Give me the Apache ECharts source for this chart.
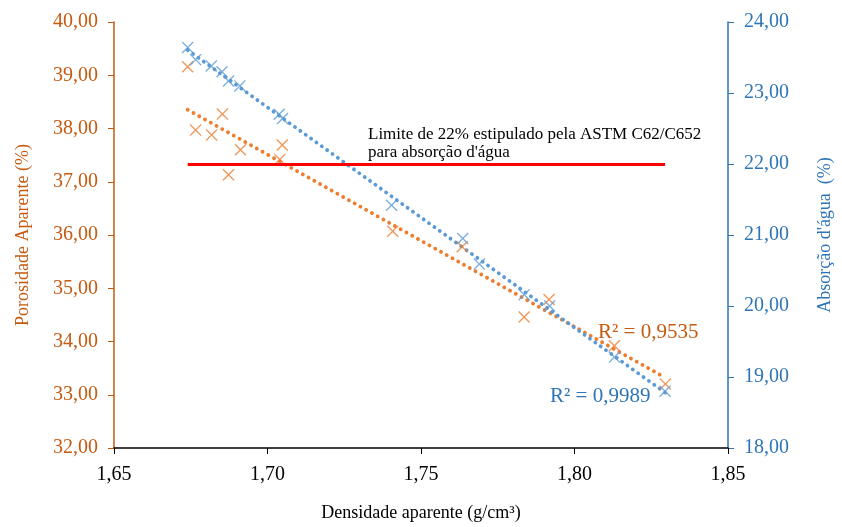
<!DOCTYPE html>
<html>
<head>
<meta charset="utf-8">
<script src="https://cdn.jsdelivr.net/npm/echarts@6/dist/echarts.min.js"></script>
<style>
  html, body { margin: 0; padding: 0; background: #fff; }
  #chart { width: 842px; height: 527px; }
</style>
</head>
<body>
<div id="chart"></div>
<script>
// densidade aparente x porosidade aparente
var densPorosidade = [1.674, 1.6766, 1.6818, 1.6853, 1.6873, 1.6912, 1.7040, 1.7048, 1.7408, 1.7634, 1.7836, 1.7917, 1.8130, 1.8296];
var porosidade = [39.16, 37.97, 37.88, 38.27, 37.13, 37.60, 37.42, 37.69, 36.07, 35.78, 34.46, 34.79, 33.92, 33.20];

// densidade aparente x absorcao de agua
var densAbsorcao = [1.674, 1.6766, 1.6817, 1.6852, 1.6873, 1.6910, 1.7038, 1.7049, 1.7404, 1.7636, 1.7690, 1.7836, 1.7919, 1.8130, 1.8295];
var absorcao = [23.64, 23.47, 23.38, 23.30, 23.17, 23.10, 22.70, 22.64, 21.42, 20.95, 20.59, 20.16, 20.00, 19.28, 18.80];

var limiteAbsorcao = 22;
var r2Labels = ["R² = 0,9535", "R² = 0,9989"];

var laranja = "#ED7D31";
var laranjaEixo = "#C55A11";
var azul = "#5B9BD5";
var azulEixo = "#2E75B6";
var fonte = "Liberation Serif";

// linha de tendencia (minimos quadrados)
function tendencia(xs, ys) {
  var n = xs.length, sx = 0, sy = 0, sxx = 0, sxy = 0;
  for (var i = 0; i < n; i++) {
    sx += xs[i]; sy += ys[i]; sxx += xs[i] * xs[i]; sxy += xs[i] * ys[i];
  }
  var b = (n * sxy - sx * sy) / (n * sxx - sx * sx);
  var a = (sy - b * sx) / n;
  var x0 = Math.min.apply(null, xs), x1 = Math.max.apply(null, xs);
  return [[x0, a + b * x0], [x1, a + b * x1]];
}

function pares(xs, ys) {
  return xs.map(function(x, i) { return [x, ys[i]]; });
}

function virgula(v) { return v.toFixed(2).replace(".", ","); }

var simboloX = "path://M0,0.8 L0.8,0 L5,4.2 L9.2,0 L10,0.8 L5.8,5 L10,9.2 L9.2,10 L5,5.8 L0.8,10 L0,9.2 L4.2,5 Z";

var myChart = echarts.init(document.getElementById("chart"));
var option = {
  animation: false,
  grid: { left: 114, right: 111, top: 22, bottom: 76 },
  xAxis: {
    type: "value",
    min: 1.65,
    max: 1.85,
    interval: 0.05,
    name: "Densidade aparente (g/cm³)",
    nameLocation: "middle",
    nameGap: 56,
    nameTextStyle: { color: "#000", fontFamily: fonte, fontSize: 18 },
    axisLine: { lineStyle: { color: "#000", width: 1.5 } },
    axisTick: { show: true, inside: false, length: 6, lineStyle: { color: "#000" } },
    axisLabel: { color: "#000", fontFamily: fonte, fontSize: 20, margin: 17, formatter: virgula },
    splitLine: { show: false }
  },
  yAxis: [
    {
      type: "value",
      min: 32,
      max: 40,
      interval: 1,
      position: "left",
      name: "Porosidade Aparente (%)",
      nameLocation: "middle",
      nameRotate: 90,
      nameGap: 82,
      nameTextStyle: { color: laranjaEixo, fontFamily: fonte, fontSize: 18 },
      axisLine: { show: true, lineStyle: { color: laranjaEixo, width: 1.5 } },
      axisTick: { show: true, length: 6, lineStyle: { color: laranjaEixo } },
      axisLabel: { color: laranjaEixo, fontFamily: fonte, fontSize: 20, margin: 16, formatter: virgula },
      splitLine: { show: false }
    },
    {
      type: "value",
      min: 18,
      max: 24,
      interval: 1,
      position: "right",
      name: "Absorção d'água  (%)",
      nameLocation: "middle",
      nameRotate: 90,
      nameGap: 88,
      nameTextStyle: { color: azulEixo, fontFamily: fonte, fontSize: 18 },
      axisLine: { show: true, lineStyle: { color: azulEixo, width: 1.5 } },
      axisTick: { show: true, length: 6, lineStyle: { color: azulEixo } },
      axisLabel: { color: azulEixo, fontFamily: fonte, fontSize: 20, margin: 16, formatter: virgula },
      splitLine: { show: false }
    }
  ],
  series: [
    {
      name: "Tendência porosidade",
      type: "line",
      yAxisIndex: 0,
      data: tendencia(densPorosidade, porosidade),
      symbol: "none",
      silent: true,
      lineStyle: { color: laranja, width: 3.8, type: [0.1, 6.5], cap: "round" },
      z: 2
    },
    {
      name: "Tendência absorção",
      type: "line",
      yAxisIndex: 1,
      data: tendencia(densAbsorcao, absorcao),
      symbol: "none",
      silent: true,
      lineStyle: { color: azul, width: 3.8, type: [0.1, 6.5], cap: "round" },
      z: 2,
      markLine: {
        silent: true,
        symbol: "none",
        label: { show: false },
        lineStyle: { color: "#FF0000", width: 3, type: "solid" },
        data: [[
          { coord: [Math.min.apply(null, densAbsorcao), limiteAbsorcao] },
          { coord: [Math.max.apply(null, densAbsorcao), limiteAbsorcao] }
        ]]
      }
    },
    {
      name: "Porosidade aparente",
      type: "scatter",
      yAxisIndex: 0,
      data: pares(densPorosidade, porosidade),
      symbol: simboloX,
      symbolSize: 12,
      itemStyle: { color: laranja },
      z: 3
    },
    {
      name: "Absorção d'água",
      type: "scatter",
      yAxisIndex: 1,
      data: pares(densAbsorcao, absorcao),
      symbol: simboloX,
      symbolSize: 12,
      itemStyle: { color: azul },
      z: 3
    }
  ],
  graphic: [
    {
      type: "text", left: 368, top: 126, z: 10,
      style: {
        text: "Limite de 22% estipulado pela ASTM C62/C652\npara absorção d'água",
        fill: "#000", font: "17px 'Liberation Serif'", lineHeight: 18
      }
    },
    {
      type: "text", left: 598, top: 322, z: 10,
      style: { text: r2Labels[0], fill: laranjaEixo, font: "21px 'Liberation Serif'" }
    },
    {
      type: "text", left: 550, top: 386, z: 10,
      style: { text: r2Labels[1], fill: azulEixo, font: "21px 'Liberation Serif'" }
    }
  ]
};

myChart.setOption(option);
window.addEventListener("resize", function() {
  myChart.resize();
});
</script>
</body>
</html>
